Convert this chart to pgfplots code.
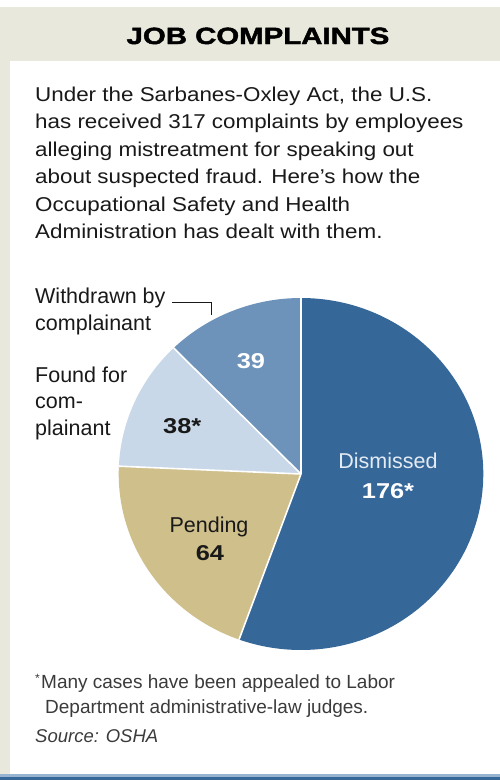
\documentclass[border=0pt]{standalone}
\usepackage{fontspec}
\setmainfont{Liberation Sans}
\newfontfamily\bodyf[FakeStretch=1.12]{Liberation Sans}
\newfontfamily\titlef[FakeStretch=1.25,BoldFeatures={FakeBold=2}]{Liberation Sans}
\newfontfamily\numf[FakeStretch=1.18]{Liberation Sans}
\usepackage{pgfplots}
\pgfplotsset{compat=1.18}
\usepackage{pgfplotstable}
\definecolor{cDis}{RGB}{53,103,153}
\definecolor{cWit}{RGB}{110,147,186}
\definecolor{cFou}{RGB}{200,216,232}
\definecolor{cPen}{RGB}{206,191,139}
\definecolor{bandc}{RGB}{232,232,220}
\definecolor{txt}{RGB}{25,25,25}
\definecolor{lblw}{RGB}{228,235,243}
\definecolor{barl}{RGB}{150,180,210}

\pgfplotstableread{
label value
Dismissed 176
Pending 64
Found 38
Withdrawn 39
}\piedata

\begin{document}
\begin{tikzpicture}
\pgfplotstablegetelem{0}{value}\of\piedata\let\vA\pgfplotsretval
\pgfplotstablegetelem{1}{value}\of\piedata\let\vB\pgfplotsretval
\pgfplotstablegetelem{2}{value}\of\piedata\let\vC\pgfplotsretval
\pgfplotstablegetelem{3}{value}\of\piedata\let\vD\pgfplotsretval
\pgfmathsetmacro\tot{\vA+\vB+\vC+\vD}
\pgfmathsetmacro\aA{90}
\pgfmathsetmacro\aB{\aA-\vA/\tot*360}
\pgfmathsetmacro\aC{\aB-\vB/\tot*360}
\pgfmathsetmacro\aD{\aC-\vC/\tot*360}
\pgfmathsetmacro\aE{\aD-\vD/\tot*360}
\useasboundingbox (0pt,0pt) rectangle (500pt,-780pt);
\begin{scope}[x=1pt,y=-1pt]
\fill[white] (0,0) rectangle (500,780);
\fill[bandc] (0,7) rectangle (500,61);
\fill[bandc] (0,61) rectangle (10,775);
\fill[barl] (0,774) rectangle (500,776.5);
\fill[cDis] (0,776.5) rectangle (500,780);
\node[anchor=base, inner sep=0, text=black] at (258,44) {\fontsize{23.5}{26}\titlef\bfseries JOB COMPLAINTS};
\foreach \t/\y in {{Under the Sarbanes-Oxley Act, the U.S.}/101,
  {has received 317 complaints by employees}/128.5,
  {alleging mistreatment for speaking out}/156,
  {about suspected fraud. Here’s how the}/183.5,
  {Occupational Safety and Health}/211,
  {Administration has dealt with them.}/238.5}
  \node[anchor=base west, inner sep=0, text=txt] at (35,\y) {\fontsize{20}{24}\bodyf \t};
\end{scope}
\begin{axis}[at={(301pt,-474pt)}, anchor=center, scale only axis,
  width=364.6pt, height=352pt, xmin=-1, xmax=1, ymin=-1, ymax=1,
  hide axis, clip=false]
\fill[cDis] (axis cs:0,0) -- (axis cs:{cos(\aA)},{sin(\aA)}) arc[start angle=\aA, end angle=\aB, x radius=182.3pt, y radius=176pt] -- cycle;
\fill[cPen] (axis cs:0,0) -- (axis cs:{cos(\aB)},{sin(\aB)}) arc[start angle=\aB, end angle=\aC, x radius=182.3pt, y radius=176pt] -- cycle;
\fill[cFou] (axis cs:0,0) -- (axis cs:{cos(\aC)},{sin(\aC)}) arc[start angle=\aC, end angle=\aD, x radius=182.3pt, y radius=176pt] -- cycle;
\fill[cWit] (axis cs:0,0) -- (axis cs:{cos(\aD)},{sin(\aD)}) arc[start angle=\aD, end angle=\aE, x radius=182.3pt, y radius=176pt] -- cycle;
\draw[white, line width=1.6pt] (axis cs:0,0) -- (axis cs:{cos(\aA)},{sin(\aA)});
\draw[white, line width=1.6pt] (axis cs:0,0) -- (axis cs:{cos(\aB)},{sin(\aB)});
\draw[white, line width=1.6pt] (axis cs:0,0) -- (axis cs:{cos(\aC)},{sin(\aC)});
\draw[white, line width=1.6pt] (axis cs:0,0) -- (axis cs:{cos(\aD)},{sin(\aD)});
\end{axis}
\begin{scope}[x=1pt,y=-1pt]
\draw[txt, line width=0.8pt] (172,302) -- (211,302) -- (211,315);
\node[anchor=base west, inner sep=0, text=txt] at (35,303) {\fontsize{21.5}{24}\selectfont Withdrawn by};
\node[anchor=base west, inner sep=0, text=txt] at (35,330) {\fontsize{21.5}{24}\selectfont complainant};
\node[anchor=base west, inner sep=0, text=txt] at (35,382) {\fontsize{21.5}{24}\selectfont Found for};
\node[anchor=base west, inner sep=0, text=txt] at (35,408.5) {\fontsize{21.5}{24}\selectfont com-};
\node[anchor=base west, inner sep=0, text=txt] at (35,435) {\fontsize{21.5}{24}\selectfont plainant};
\node[anchor=base, inner sep=0, text=white] at (251,368) {\fontsize{21.5}{24}\numf\bfseries 39};
\node[anchor=base west, inner sep=0, text=txt] at (163,433) {\fontsize{21.5}{24}\numf\bfseries 38*};
\node[anchor=base, inner sep=0, text=lblw] at (388,468) {\fontsize{21.5}{24}\selectfont Dismissed};
\node[anchor=base, inner sep=0, text=white] at (388,498) {\fontsize{21.5}{24}\numf\bfseries 176*};
\node[anchor=base, inner sep=0, text=txt] at (209,532) {\fontsize{21.5}{24}\selectfont Pending};
\node[anchor=base, inner sep=0, text=txt] at (210,560) {\fontsize{21.5}{24}\numf\bfseries 64};
\node[anchor=base west, inner sep=0, text=txt!85] at (35,682) {\fontsize{12}{14}\selectfont *};
\node[anchor=base west, inner sep=0, text=txt!85] at (41,688) {\fontsize{19}{22}\selectfont Many cases have been appealed to Labor};
\node[anchor=base west, inner sep=0, text=txt!85] at (45,713) {\fontsize{19}{22}\selectfont Department administrative-law judges.};
\node[anchor=base west, inner sep=0, text=txt!85] at (35,742) {\fontsize{18.5}{22}\selectfont\itshape Source: OSHA};
\end{scope}
\end{tikzpicture}
\end{document}
